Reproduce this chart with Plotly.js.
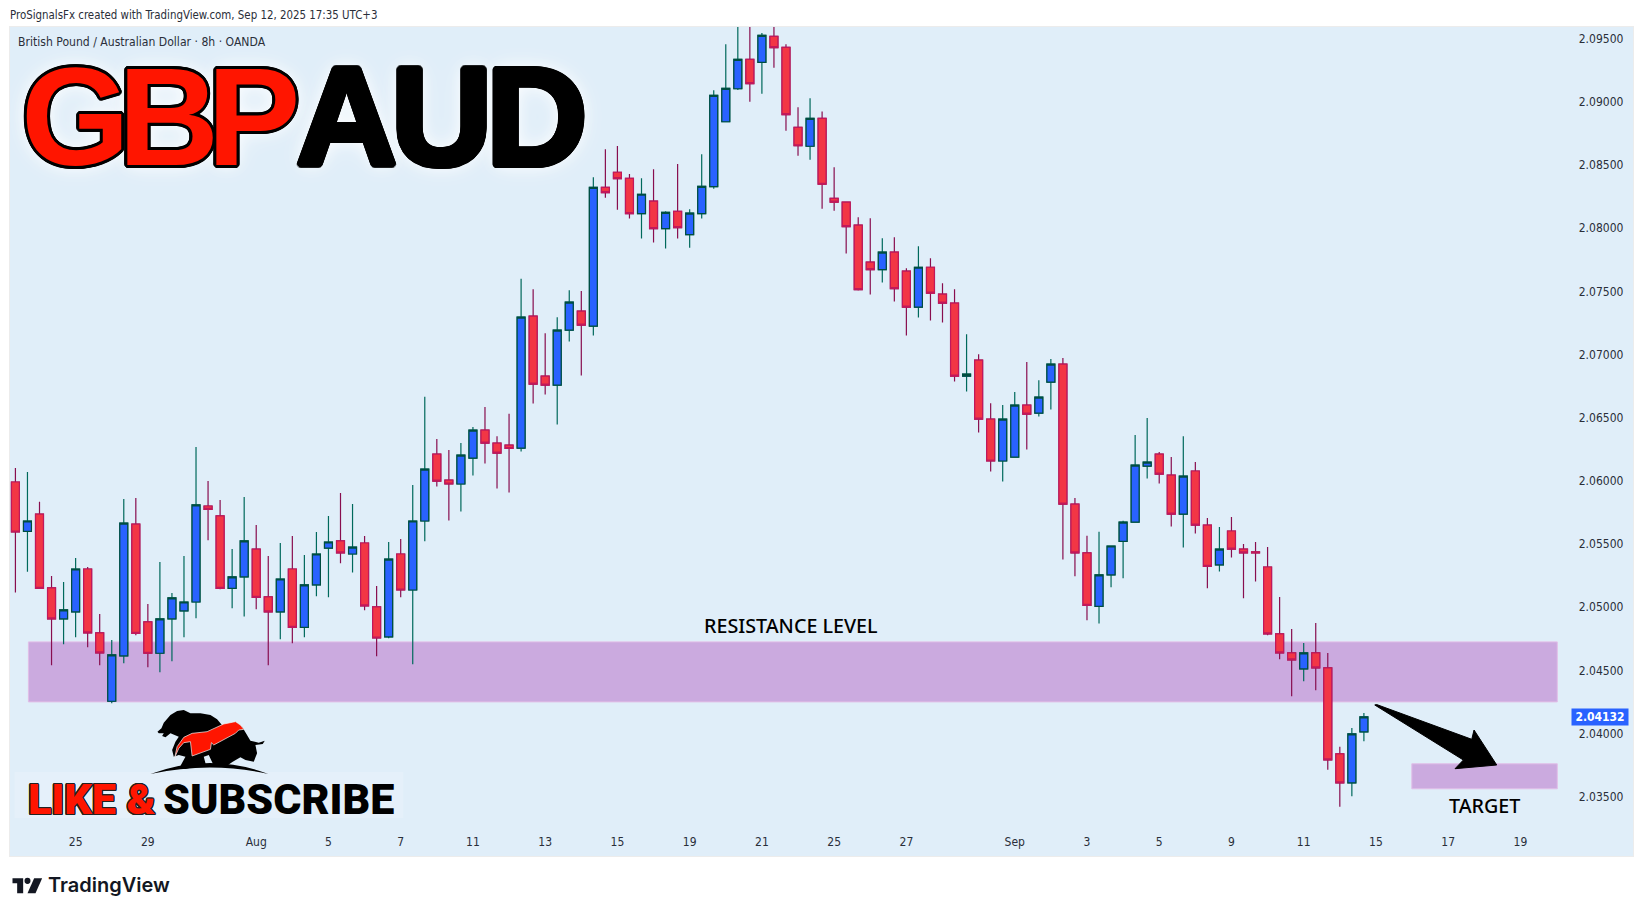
<!DOCTYPE html>
<html>
<head>
<meta charset="utf-8">
<script src="https://cdn.plot.ly/plotly-3.0.1.min.js"></script>
<style>html,body{margin:0;padding:0;background:#fff;overflow:hidden}#chart{width:1643px;height:916px}</style>
</head>
<body>
<div id="chart"></div>
<script>
const opens = [2.05991,2.05600,2.05737,2.05152,2.04907,2.04962,2.05302,2.04796,2.04255,2.04614,2.05658,2.04883,2.04635,2.04907,2.04970,2.05041,2.05801,2.05722,2.05149,2.05239,2.05460,2.05081,2.04962,2.05302,2.04840,2.05176,2.05468,2.05524,2.05421,2.05508,2.05002,2.04764,2.05421,2.05136,2.05682,2.06212,2.06006,2.05975,2.06180,2.06402,2.06299,2.06283,2.06259,2.07304,2.06829,2.06758,2.07193,2.07343,2.07225,2.08324,2.08443,2.08395,2.08115,2.08214,2.07997,2.08134,2.07949,2.08115,2.08329,2.08843,2.09104,2.09337,2.09313,2.09519,2.09432,2.08799,2.08649,2.08870,2.08237,2.08206,2.08024,2.07731,2.07672,2.07810,2.07660,2.07375,2.07691,2.07478,2.07407,2.06829,2.06956,2.06489,2.06157,2.06188,2.06600,2.06536,2.06782,2.06924,2.05816,2.05429,2.05006,2.05255,2.05521,2.05674,2.06117,2.06212,2.06046,2.05737,2.06078,2.05650,2.05334,2.05603,2.05460,2.05437,2.05318,2.04788,2.04638,2.04511,2.04638,2.04519,2.03839,2.03609,2.04013];
const closes = [2.05595,2.05682,2.05149,2.04907,2.04978,2.05302,2.04796,2.04638,2.04622,2.05666,2.04793,2.04635,2.04907,2.05073,2.05041,2.05809,2.05774,2.05149,2.05239,2.05524,2.05078,2.04962,2.05223,2.04840,2.05176,2.05421,2.05516,2.05429,2.05476,2.05010,2.04756,2.05381,2.05136,2.05682,2.06093,2.05998,2.05975,2.06204,2.06402,2.06299,2.06220,2.06256,2.07296,2.06766,2.06758,2.07193,2.07415,2.07233,2.08324,2.08282,2.08392,2.08115,2.08269,2.07997,2.08126,2.08005,2.08119,2.08332,2.09052,2.09107,2.09337,2.09144,2.09527,2.09429,2.08899,2.08653,2.08870,2.08348,2.08206,2.08013,2.07514,2.07672,2.07810,2.07522,2.07375,2.07691,2.07486,2.07407,2.06829,2.06845,2.06489,2.06157,2.06489,2.06600,2.06528,2.06663,2.06924,2.05816,2.05429,2.05014,2.05255,2.05484,2.05674,2.06125,2.06149,2.06054,2.05737,2.06038,2.05650,2.05323,2.05460,2.05460,2.05429,2.05429,2.04788,2.04638,2.04582,2.04638,2.04519,2.03791,2.03609,2.03997,2.04132];
const highs = [2.06101,2.06070,2.05835,2.05247,2.05199,2.05389,2.05318,2.04946,2.04741,2.05856,2.05864,2.05025,2.05358,2.05112,2.05405,2.06267,2.05998,2.05848,2.05460,2.05872,2.05650,2.05405,2.05508,2.05563,2.05413,2.05595,2.05722,2.05904,2.05816,2.05563,2.05168,2.05516,2.05540,2.05967,2.06665,2.06331,2.06244,2.06299,2.06426,2.06584,2.06354,2.06531,2.07599,2.07517,2.07169,2.07296,2.07509,2.07502,2.08403,2.08625,2.08651,2.08429,2.08395,2.08467,2.08134,2.08509,2.08150,2.08585,2.09092,2.09456,2.09700,2.09800,2.09545,2.09680,2.09456,2.08957,2.09028,2.08925,2.08482,2.08206,2.08087,2.08079,2.07921,2.07929,2.07683,2.07858,2.07763,2.07565,2.07517,2.07161,2.07003,2.06615,2.06600,2.06703,2.06940,2.06797,2.06964,2.06972,2.05864,2.05566,2.05597,2.05484,2.05684,2.06362,2.06497,2.06228,2.06188,2.06354,2.06149,2.05706,2.05635,2.05714,2.05500,2.05516,2.05476,2.05081,2.04828,2.04717,2.04875,2.04638,2.03894,2.04044,2.04163];
const lows = [2.05117,2.05281,2.05145,2.04540,2.04706,2.04761,2.04682,2.04540,2.04239,2.04556,2.04777,2.04524,2.04484,2.04571,2.04761,2.04912,2.05529,2.05141,2.04991,2.04927,2.04983,2.04540,2.04745,2.04714,2.04761,2.05086,2.05078,2.05347,2.05275,2.04975,2.04611,2.04753,2.05078,2.04548,2.05521,2.05956,2.05687,2.05758,2.06043,2.06138,2.05940,2.05908,2.06233,2.06612,2.06684,2.06446,2.07103,2.06834,2.07150,2.08242,2.08147,2.08076,2.07918,2.07886,2.07839,2.07918,2.07846,2.08076,2.08313,2.08843,2.09094,2.09001,2.09065,2.09270,2.08772,2.08574,2.08543,2.08155,2.08139,2.07799,2.07506,2.07475,2.07570,2.07419,2.07150,2.07293,2.07269,2.07253,2.06786,2.06707,2.06383,2.06074,2.05995,2.06188,2.06248,2.06509,2.06565,2.05378,2.05244,2.04896,2.04870,2.05157,2.05228,2.05674,2.06019,2.05979,2.05639,2.05473,2.05584,2.05149,2.05283,2.05394,2.05070,2.05204,2.04777,2.04587,2.04294,2.04413,2.04342,2.03712,2.03419,2.03503,2.03938];

const tickBars = [5,11,20,26,32,38,44,50,56,62,68,74,83,89,95,101,107,113,119,125];
const tickLabels = ['25','29','Aug','5','7','11','13','15','19','21','25','27','Sep','3','5','9','11','15','17','19'];
const priceTicks = [2.035,2.04,2.045,2.05,2.055,2.06,2.065,2.07,2.075,2.08,2.085,2.09,2.095];
const lastPrice = 2.04132;
const resistanceZone = {bars:[1.08,128.06], prices:[2.04250,2.04725]};
const targetZone = {bars:[115.98,128.06], prices:[2.03562,2.03760]};

const W = 1643, H = 916;
const L = 9.5, R = 1633, T = 27, B = 856;
const bars = opens.map((_, i) => i);
const xRange = [-0.45, 134.35];
const yRange = [2.03030, 2.09593];
const fx = px => (px - L) / (R - L);
const fy = py => (B - py) / (B - T);
const UI = '"DejaVu Sans Condensed","DejaVu Sans",sans-serif';

const bodyHigh = opens.map((o, i) => Math.max(o, closes[i]));
const bodyLow = opens.map((o, i) => Math.min(o, closes[i]));

const candle = (high, low, upLine, dnLine, w) => ({
  type:'candlestick', x:bars, open:opens, high:high, low:low, close:closes,
  increasing:{line:{color:upLine, width:w}, fillcolor:'#2962ff'},
  decreasing:{line:{color:dnLine, width:w}, fillcolor:'#f23645'},
  whiskerwidth:0, hoverinfo:'skip', showlegend:false
});
const traces = [
  candle(highs, lows, '#00695c', '#880e4f', 1.2),
  candle(bodyHigh, bodyLow, '#004d40', '#c2185b', 1.2)
];

// outline helper using the font shadow
function ring(r, c){
  const out = [];
  for (let a = 0; a < 16; a++) {
    const t = a * Math.PI / 8;
    out.push((r*Math.cos(t)).toFixed(1)+'px '+(r*Math.sin(t)).toFixed(1)+'px 0 '+c);
  }
  return out.join(',');
}
function note(text, px, py, size, color, extra){
  extra = extra || {};
  return Object.assign({
    text:text, xref:'paper', yref:'paper', x:fx(px), y:fy(py),
    xanchor:extra.anchor||'left', yanchor:'middle', showarrow:false,
    font:{family:extra.family||UI, size:size, color:color, weight:extra.weight||400, shadow:extra.shadow||'none'}
  }, extra.raw||{});
}
const bigFont = '"Liberation Sans",Arial,sans-serif';
const glow = ',0 0 16px rgba(255,255,255,.95),0 0 26px rgba(255,255,255,.7)';
const annotations = [
  note('ProSignalsFx created with TradingView.com, Sep 12, 2025 17:35 UTC+3', 7.5, 14.7, 11.4, '#2a2e39'),
  note('British Pound / Australian Dollar · 8h · OANDA', 16, 41.7, 12.1, '#2a2e39'),
  note('GBP', 154, 116.5, 140, '#ff1500', {anchor:'center', family:bigFont, weight:700, shadow:ring(3,'#000')+glow}),
  note('AUD', 438.5, 116.5, 140, '#000000', {anchor:'center', family:bigFont, weight:700, shadow:ring(3,'#000')+glow}),
  note('LIKE &', 25.5, 799, 43, '#ff1500', {family:'Roboto,sans-serif', weight:900, shadow:ring(1.2,'#222')}),
  note('SUBSCRIBE', 161, 799, 43, '#000000', {family:'Roboto,sans-serif', weight:900}),
  note('RESISTANCE LEVEL', 791, 625.5, 19.7, '#000000', {anchor:'center', family:'"Noto Sans",sans-serif', weight:500}),
  note('TARGET', 1484, 805.7, 19.7, '#000000', {anchor:'center', family:'"Noto Sans",sans-serif', weight:500}),
  note('TradingView', 46, 885, 20, '#131722', {family:'Inter,sans-serif', weight:600}),
  {text:'2.04132', xref:'paper', yref:'y', x:fx(1600), y:lastPrice, xanchor:'center', yanchor:'middle', showarrow:false,
   bgcolor:'#2962ff', width:56, height:16, borderpad:0,
   font:{family:UI, size:12, color:'#ffffff', weight:700}}
];

// hand-traced decorations, in page pixels, placed through paper coordinates
function path(cmds){
  return cmds.map(c => typeof c === 'string' ? c : fx(c[0]).toFixed(5)+' '+fy(c[1]).toFixed(5)).join(' ');
}
function deco(cmds, fill, lineColor, lineWidth){
  return {type:'path', xref:'paper', yref:'paper', path:path(cmds), fillcolor:fill, layer:'above',
    line:{color:lineColor||fill, width:lineWidth===undefined?0:lineWidth}};
}
const poly = (pts, ox, oy, k) => {
  const c = [];
  pts.forEach((p, i) => { c.push(i ? 'L' : 'M'); c.push([ox + p[0]/k, oy + p[1]/k]); });
  c.push('Z');
  return c;
};
const bull = poly([[36,95],[48,85],[55,68],[75,45],[95,33],[115,30],[135,40],[165,40],[195,45],[215,58],[232,78],[270,65],[290,80],[315,122],[340,128],[358,122],[352,132],[330,135],[335,160],[325,185],[300,180],[285,172],[262,185],[245,197],[205,197],[190,165],[175,170],[182,197],[140,202],[120,207],[100,207],[120,170],[100,165],[85,170],[80,150],[90,125],[100,110],[75,100],[60,112],[50,108],[55,100],[40,100]],145,700,3);
const bolt = poly([[88,172],[95,140],[115,112],[140,100],[185,95],[235,72],[270,65],[285,75],[295,88],[280,90],[270,100],[205,135],[198,128],[195,148],[140,168],[135,125],[115,128],[100,145]],145,700,3);
const ground = ['M',[150,774],'Q',[210,752],[268,774],'Q',[210,761],[150,774],'Z'];
const arrow = poly([[1374.7,705],[1376.5,704.5],[1471.7,739.3],[1474,730],[1496.7,765],[1455,768.7],[1463.3,760]],0,0,1);
const tvT = poly([[36,55],[68,55],[68,100],[50,100],[50,70],[36,70]],0,860,3);
const tvSlash = poly([[101,55],[125,55],[105,100],[81,100]],0,860,3);
const tvDot = {type:'circle', xref:'paper', yref:'paper', x0:fx(24), x1:fx(30), y0:fy(877.7), y1:fy(884), fillcolor:'#131722', line:{width:0}};

const zone = (z, stroke) => ({
  type:'rect', xref:'x', yref:'y', x0:z.bars[0], x1:z.bars[1], y0:z.prices[0], y1:z.prices[1],
  fillcolor:'#cbaadf', line:{color:stroke, width:1}, layer:'below'
});
const shapes = [
  zone(resistanceZone, '#e1bee7'),
  zone(targetZone, '#e1bee7'),
  {type:'rect', xref:'paper', yref:'paper', x0:fx(14), x1:fx(403), y0:fy(818), y1:fy(772), fillcolor:'rgba(255,255,255,.16)', line:{width:0}, layer:'below'},
  deco(arrow, '#000000', '#000000', 1),
  deco(bull, '#000000'),
  deco(bolt, '#ff1500', '#f2f2f2', 0.7),
  deco(ground, '#000000'),
  deco(tvT, '#131722'),
  deco(tvSlash, '#131722'),
  tvDot
];

const layout = {
  width:W, height:H, autosize:false,
  margin:{l:L, r:W-R, t:T, b:H-B, pad:0},
  paper_bgcolor:'#ffffff', plot_bgcolor:'#e0eef9',
  showlegend:false, hovermode:false,
  boxgap:0.34, boxgroupgap:0,
  xaxis:{type:'linear', range:xRange, tickmode:'array', tickvals:tickBars, ticktext:tickLabels,
    showgrid:false, zeroline:false, showline:true, mirror:true, linecolor:'#ececec', linewidth:1,
    ticks:'inside', ticklen:7, tickcolor:'rgba(0,0,0,0)', ticklabelposition:'inside',
    tickfont:{family:UI, size:12, color:'#2a2e39'}, rangeslider:{visible:false}, fixedrange:true},
  yaxis:{type:'linear', side:'right', range:yRange, tickmode:'array', tickvals:priceTicks,
    ticktext:priceTicks.map(v => v.toFixed(5)),
    showgrid:false, zeroline:false, showline:true, mirror:true, linecolor:'#ececec', linewidth:1,
    ticks:'inside', ticklen:9, tickcolor:'rgba(0,0,0,0)', ticklabelposition:'inside',
    tickfont:{family:UI, size:12, color:'#2a2e39'}, fixedrange:true},
  annotations:annotations, shapes:shapes
};
Plotly.newPlot('chart', traces, layout, {displayModeBar:false, staticPlot:true}).then(() => {
  document.querySelectorAll('.annotation-text').forEach(t => {
    const s = t.textContent;
    if (s === 'GBP') t.style.letterSpacing = '-12px';
    if (s === 'AUD') t.style.letterSpacing = '-6px';
  });
});
</script>
</body>
</html>
